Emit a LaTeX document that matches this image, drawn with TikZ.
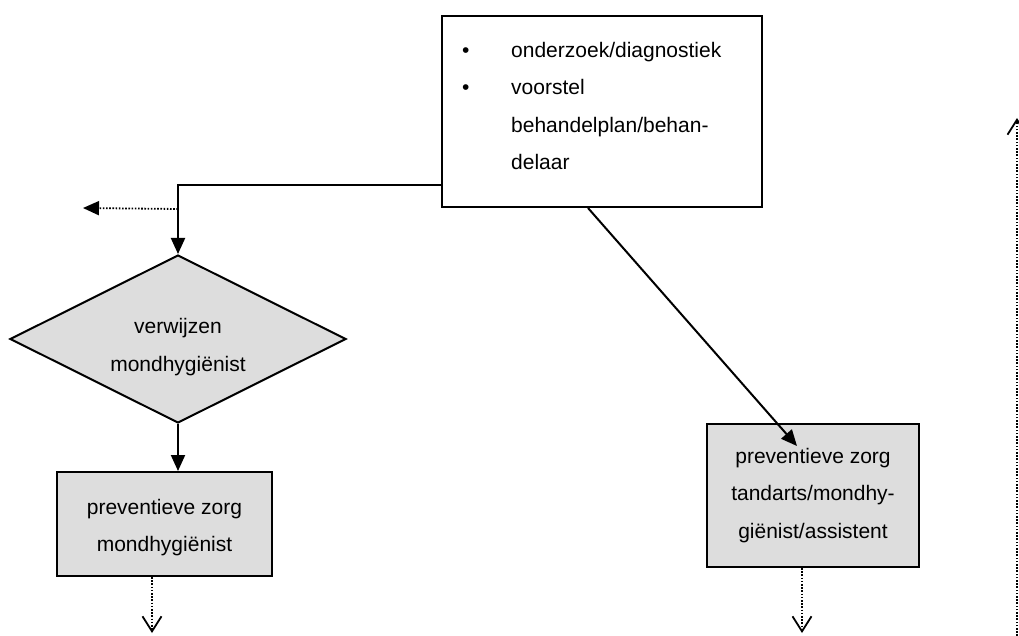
\documentclass[tikz,border=0pt]{standalone}
\usepackage{fontspec}
\setmainfont{Liberation Sans}
\usetikzlibrary{arrows.meta,shapes.geometric,calc}
\definecolor{boxgray}{RGB}{221,221,221}
\begin{document}
\begin{tikzpicture}[x=1pt,y=-1pt,
  every node/.style={font=\fontsize{21}{37.5}\selectfont},
  line/.style={line width=2pt},
  dotline/.style={line width=1.8pt,dash pattern=on 1.6pt off 1.6pt},
  solidtip/.style={-{Triangle[length=16pt,width=14pt]}},
  opentip/.style={-{Straight Barb[length=15pt,width=19pt,line width=1.8pt]}},
  whitebox/.style={draw,line width=2pt,fill=white,inner sep=0pt},
  graybox/.style={draw,line width=2pt,fill=boxgray,inner sep=0pt,align=center},
  graydiamond/.style={draw,line width=2pt,fill=boxgray,diamond,aspect=2,inner sep=0pt}]
\useasboundingbox (0,0) rectangle (1019,636);

% top box
\node[whitebox,minimum width=320pt,minimum height=191pt] (top) at (602,111.5) {};
\node[anchor=base west,inner sep=0pt] (b1) at (462,57.5) {•};
\node[anchor=base west,inner sep=0pt] (b2) at (462,95) {•};
\node[anchor=base west,inner sep=0pt] (t1) at (511,57.5) {onderzoek/diagnostiek};
\node[anchor=base west,inner sep=0pt] (t2) at (511,95) {voorstel};
\node[anchor=base west,inner sep=0pt] (t3) at (511,132.5) {behandelplan/behan-};
\node[anchor=base west,inner sep=0pt] (t4) at (511,170) {delaar};

% diamond
\node[graydiamond,minimum width=336pt,minimum height=168pt] (dia) at (178,339) {};
\node[align=center,inner sep=0pt] (diatext) at ($(dia.center)+(0,8)$) {verwijzen\\ mondhygiënist};

% left box
\node[graybox,minimum width=215pt,minimum height=104pt] (lbox) at (164.5,524) {\parbox{200pt}{\centering\vspace*{7pt}preventieve zorg\\ mondhygiënist}};

% right box
\node[graybox,minimum width=212pt,minimum height=143pt] (rbox) at (813,495.5) {preventieve zorg\\ tandarts/mondhy-\\ giënist/assistent};

% coordinates
\coordinate (start) at ($(top.south west)+(0,-23)$);
\coordinate (corner) at (dia.north |- start);
\coordinate (branch) at ($(corner)+(0,24)$);
\coordinate (leftend) at (83,208);
\coordinate (diagstart) at ($(top.south)+(-14,0)$);
\coordinate (diagend) at ($(rbox.north)+(-16,23)$);
\coordinate (lout) at (152,633);
\coordinate (lstart) at (lout |- lbox.south);
\coordinate (rout) at (802,633);
\coordinate (rstart) at (rout |- rbox.south);
\coordinate (vbot) at (1017,636);
\coordinate (vtop) at (1017,118);

% connectors
\draw[line,solidtip] (start) -- (corner) -- (dia.north);
\draw[dotline,solidtip] (branch) -- (leftend);
\draw[line,solidtip] (dia.south) -- (dia.south |- lbox.north);
\draw[line,solidtip] (diagstart) -- (diagend);
\draw[dotline,opentip] (lstart) -- (lout);
\draw[dotline,opentip] (rstart) -- (rout);
\draw[dotline,opentip] (vbot) -- (vtop);
\end{tikzpicture}
\end{document}
